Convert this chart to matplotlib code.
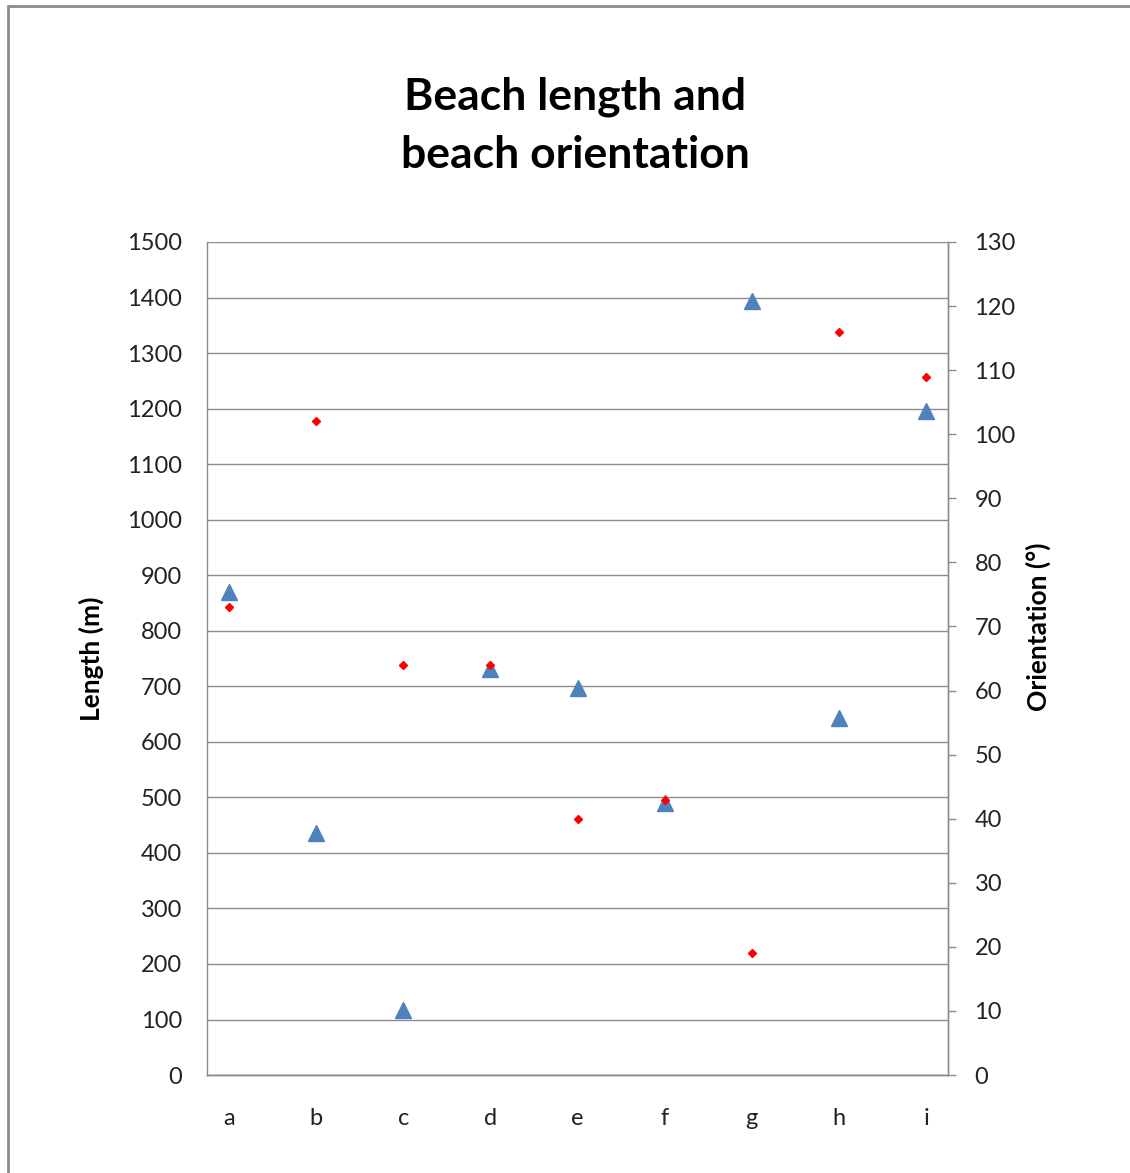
import matplotlib
matplotlib.use("Agg")
import matplotlib.pyplot as plt
from matplotlib.patches import Rectangle

plt.rcParams['font.family'] = ['Lato', 'DejaVu Sans']

# datos
playas = ["a", "b", "c", "d", "e", "f", "g", "h", "i"]
longitud = [870, 436, 117, 731, 697, 490, 1394, 643, 1196]
orientacion = [73, 102, 64, 64, 40, 43, 19, 116, 109]

fig = plt.figure(figsize=(11.3, 11.73), dpi=100)
# borde exterior del grafico
fig.patches.append(Rectangle((8 / 1130, -0.05), 1.1, 1 - 6 / 1173 + 0.05,
                             transform=fig.transFigure, fill=False,
                             edgecolor="#8c8c8c", lw=2))

ax = fig.add_axes([0.1832, 0.0835, 0.6558, 0.7102])
ax2 = ax.twinx()

x = list(range(len(playas)))
ax.plot(x, longitud, linestyle="none", marker="^", ms=11, color="#4F81BD", zorder=3)
ax2.plot(x, orientacion, linestyle="none", marker="D", ms=4.5, color="#FF0000", zorder=3)

ax.set_xlim(-0.25, 8.25)
ax.set_ylim(0, 1500)
ax.set_yticks(range(0, 1501, 100))
ax2.set_ylim(0, 130)
ax2.set_yticks(range(0, 131, 10))
ax.set_xticks(x)
ax.set_xticklabels(playas)

ax.grid(axis="y", color="#8c8c8c", lw=1)
ax.set_axisbelow(True)
for a in (ax, ax2):
    for s in a.spines.values():
        s.set_color("#8c8c8c")
        s.set_linewidth(1)
ax2.spines["left"].set_visible(False)
ax.spines["top"].set_visible(False)
ax2.spines["top"].set_visible(False)

ax.tick_params(axis="y", length=0, pad=18, labelsize=17, labelcolor="#222222")
ax.tick_params(axis="x", length=0, pad=24, labelsize=17, labelcolor="#222222")
ax2.tick_params(axis="y", length=6, width=1, color="#8c8c8c", direction="out",
                pad=13, labelsize=17, labelcolor="#222222")

ax.set_ylabel("Length (m)", fontsize=19, fontweight="bold")
ax.yaxis.set_label_coords(-0.139, 0.50)
ax2.set_ylabel("Orientation (°)", fontsize=19, fontweight="bold", labelpad=10)
ax2.yaxis.set_label_coords(1.105, 0.538)

fig.text(0.509, 0.8926, "Beach length and\nbeach orientation", ha="center", va="center",
         fontsize=32, fontweight="bold", linespacing=1.55)

fig.savefig("out.png", dpi=100)
